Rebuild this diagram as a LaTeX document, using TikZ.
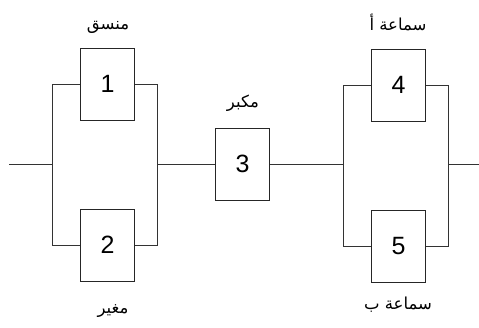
\documentclass[tikz,border=0pt]{standalone}
\usepackage{fontspec}
\setmainfont{Liberation Sans}
\newfontfamily\arabicfont[Script=Arabic]{DejaVu Sans}
\TeXXeTstate=1
\begin{document}
\begin{tikzpicture}[x=1pt,y=-1pt,
  blk/.style={draw=black!85,line width=0.9pt,minimum width=54pt,minimum height=72pt,inner sep=0pt,font=\fontsize{25}{25}\selectfont},
  lbl/.style={inner sep=0pt,font=\arabicfont\fontsize{16.5}{16.5}\selectfont},
  wire/.style={draw=black!80,line width=0.9pt}]
\useasboundingbox (0,0) rectangle (479,327);
\node[blk] (b1) at (107.5,84) {1};
\node[blk] (b2) at (107.5,245) {2};
\node[blk] (b3) at (242.5,164) {3};
\node[blk] (b4) at (398.5,85) {4};
\node[blk] (b5) at (398.5,246.5) {5};
\node[lbl] (t1) at (108,27) {\beginR منسق\endR};
\node[lbl] (t2) at (113,311) {\beginR مغير\endR};
\node[lbl] (t3) at (243,103) {\beginR مكبر\endR};
\node[lbl] (t4) at (398,22) {\beginR سماعة أ\endR};
\node[lbl] (t5) at (398,305) {\beginR سماعة ب\endR};
\coordinate (in) at (9,164);
\coordinate (L1) at (52,84);
\coordinate (L2) at (52,245);
\coordinate (Lm) at (52,164);
\coordinate (R1) at (157,84);
\coordinate (R2) at (157,245);
\coordinate (Rm) at (157,164);
\coordinate (P1) at (343,85);
\coordinate (P2) at (343,246.5);
\coordinate (Pm) at (343,164);
\coordinate (Q1) at (448,85);
\coordinate (Q2) at (448,246.5);
\coordinate (Qm) at (448,164);
\coordinate (out) at (479,164);
\draw[wire] (in) -- (Lm);
\draw[wire] (b1.west) -- (L1) -- (L2) -- (b2.west);
\draw[wire] (b1.east) -- (R1) -- (R2) -- (b2.east);
\draw[wire] (Rm) -- (b3.west);
\draw[wire] (b3.east) -- (Pm);
\draw[wire] (b4.west) -- (P1) -- (P2) -- (b5.west);
\draw[wire] (b4.east) -- (Q1) -- (Q2) -- (b5.east);
\draw[wire] (Qm) -- (out);
\end{tikzpicture}
\end{document}
